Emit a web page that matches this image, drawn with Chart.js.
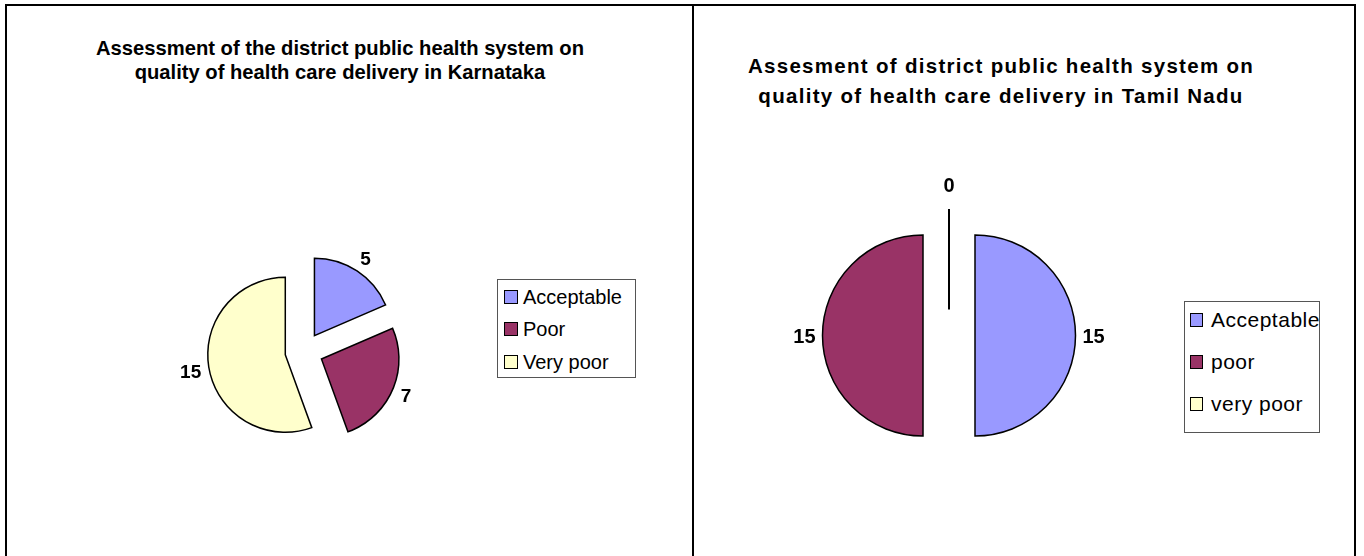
<!DOCTYPE html>
<html>
<head>
<meta charset="utf-8">
<script src="https://cdn.jsdelivr.net/npm/chart.js@4.4.1/dist/chart.umd.min.js"></script>
<style>
  html, body { margin: 0; padding: 0; background: #fff; }
  body { width: 1364px; height: 556px; position: relative; overflow: hidden;
         font-family: "Liberation Sans", Arial, sans-serif; color: #000; }
  .line { position: absolute; background: #000; }
  .title { position: absolute; text-align: center; font-weight: bold; white-space: nowrap; }
  .legend { position: absolute; box-sizing: border-box; border: 1px solid #555; background: #fff; }
  .row { position: absolute; left: 0; white-space: nowrap; }
  .sw { display: inline-block; box-sizing: border-box; border: 1px solid #000; vertical-align: baseline; }
  canvas { position: absolute; }
</style>
</head>
<body>
<div class="line" style="left:5px;top:4px;width:1351px;height:2px"></div>
<div class="line" style="left:5px;top:4px;width:2px;height:552px"></div>
<div class="line" style="left:692px;top:4px;width:2px;height:552px"></div>
<div class="line" style="left:1354px;top:4px;width:2px;height:552px"></div>

<div id="titleK" class="title" style="left:40px;top:36px;width:600px;font-size:20.2px;line-height:24px"></div>
<div id="titleT" class="title" style="left:701px;top:51px;width:600px;font-size:20.5px;line-height:30px;letter-spacing:1.3px"></div>

<canvas id="chartK" width="300" height="301" style="left:154px;top:201px"></canvas>
<canvas id="chartT" width="340" height="341" style="left:779px;top:165px"></canvas>

<div id="legendK" class="legend" style="left:497px;top:279px;width:139px;height:99px"></div>
<div id="legendT" class="legend" style="left:1184px;top:301px;width:136px;height:132px"></div>

<script>
// ---- data ----
const titleKarnataka = ['Assessment of the district public health system on', 'quality of health care delivery in Karnataka'];
const titleTamilNadu = ['Assesment of district public health system on', 'quality of health care delivery in Tamil Nadu'];
const categoriesKarnataka = ['Acceptable', 'Poor', 'Very poor'];
const valuesKarnataka = [5, 7, 15];
const categoriesTamilNadu = ['Acceptable', 'poor', 'very poor'];
const valuesTamilNadu = [15, 15, 0];
const sliceColors = ['#9999FF', '#993366', '#FFFFCC'];

// ---- titles ----
document.getElementById('titleK').innerHTML = titleKarnataka.join('<br>');
document.getElementById('titleT').innerHTML = titleTamilNadu.join('<br>');

// ---- legends ----
function buildLegend(id, labels, cfg) {
  const box = document.getElementById(id);
  labels.forEach((lab, i) => {
    const row = document.createElement('div');
    row.className = 'row';
    row.style.top = (cfg.first + i * cfg.step) + 'px';
    row.style.height = cfg.lh + 'px';
    row.style.lineHeight = cfg.lh + 'px';
    row.style.fontSize = cfg.fs + 'px';
    row.style.letterSpacing = cfg.ls + 'px';
    row.style.paddingLeft = cfg.padL + 'px';
    const sw = document.createElement('span');
    sw.className = 'sw';
    sw.style.width = cfg.swW + 'px';
    sw.style.height = cfg.swH + 'px';
    sw.style.marginRight = cfg.gap + 'px';
    sw.style.background = sliceColors[i];
    row.appendChild(sw);
    row.appendChild(document.createTextNode(lab));
    box.appendChild(row);
  });
}
buildLegend('legendK', categoriesKarnataka, {first: 5, step: 32.3, lh: 24, fs: 20, ls: 0, padL: 6, swW: 14, swH: 14, gap: 5});
buildLegend('legendT', categoriesTamilNadu, {first: 6.4, step: 42, lh: 24, fs: 21, ls: 0.5, padL: 4.5, swW: 13, swH: 14, gap: 8.5});

// ---- plugin: draws the library's arcs exploded by `offset` px, zero slices, value labels ----
const pieDecor = {
  id: 'pieDecor',
  beforeDatasetDraw(chart, args, opts) {
    const ctx = chart.ctx;
    const ds = chart.data.datasets[args.index];
    const arcs = args.meta.data;
    // slices
    arcs.forEach(arc => {
      const mid = (arc.startAngle + arc.endAngle) / 2;
      const off = arc.options.offset || 0;
      const cx = arc.x + Math.cos(mid) * off;
      const cy = arc.y + Math.sin(mid) * off;
      const r = arc.outerRadius;
      ctx.save();
      ctx.strokeStyle = arc.options.borderColor;
      ctx.lineJoin = 'miter';
      if (arc.circumference === 0) {
        ctx.lineWidth = 2;
        ctx.beginPath();
        ctx.moveTo(cx, cy);
        ctx.lineTo(cx + Math.cos(mid) * r, cy + Math.sin(mid) * r);
        ctx.stroke();
      } else {
        ctx.lineWidth = arc.options.borderWidth;
        ctx.fillStyle = arc.options.backgroundColor;
        ctx.beginPath();
        ctx.moveTo(cx, cy);
        ctx.arc(cx, cy, r, arc.startAngle, arc.endAngle);
        ctx.closePath();
        ctx.fill();
        ctx.stroke();
      }
      ctx.restore();
    });
    // labels
    arcs.forEach((arc, i) => {
      const mid = (arc.startAngle + arc.endAngle) / 2;
      const off = arc.options.offset || 0;
      const cx = arc.x + Math.cos(mid) * off;
      const cy = arc.y + Math.sin(mid) * off;
      const r = arc.outerRadius;
      const text = String(ds.data[i]);
      ctx.save();
      ctx.font = 'bold ' + opts.size + 'px "Liberation Sans", Arial, sans-serif';
      ctx.fillStyle = '#000';
      ctx.textAlign = 'center';
      ctx.textBaseline = 'alphabetic';
      const w = ctx.measureText(text).width;
      const h = opts.size * 0.716;
      const ext = Math.abs(Math.cos(mid)) * w / 2 + Math.abs(Math.sin(mid)) * h / 2;
      const d = r + (arc.circumference === 0 ? opts.gapZero : opts.gap) + ext;
      ctx.fillText(text, cx + Math.cos(mid) * d, cy + Math.sin(mid) * d + h / 2);
      ctx.restore();
    });
    return false;
  }
};

function makePie(id, labels, values, radius, explode, labelSize) {
  return new Chart(document.getElementById(id), {
    type: 'pie',
    data: {
      labels: labels,
      datasets: [{
        data: values,
        backgroundColor: sliceColors,
        borderColor: '#000',
        borderWidth: 1.5,
        offset: explode,
        radius: radius
      }]
    },
    options: {
      responsive: false,
      animation: false,
      events: [],
      layout: { padding: 0 },
      plugins: {
        legend: { display: false },
        title: { display: false },
        tooltip: { enabled: false },
        pieDecor: { size: labelSize, gap: 7, gapZero: 17 }
      }
    },
    plugins: [pieDecor]
  });
}

makePie('chartK', categoriesKarnataka, valuesKarnataka, 77.5, 19, 19);
makePie('chartT', categoriesTamilNadu, valuesTamilNadu, 100.5, 26, 20);
</script>
</body>
</html>
